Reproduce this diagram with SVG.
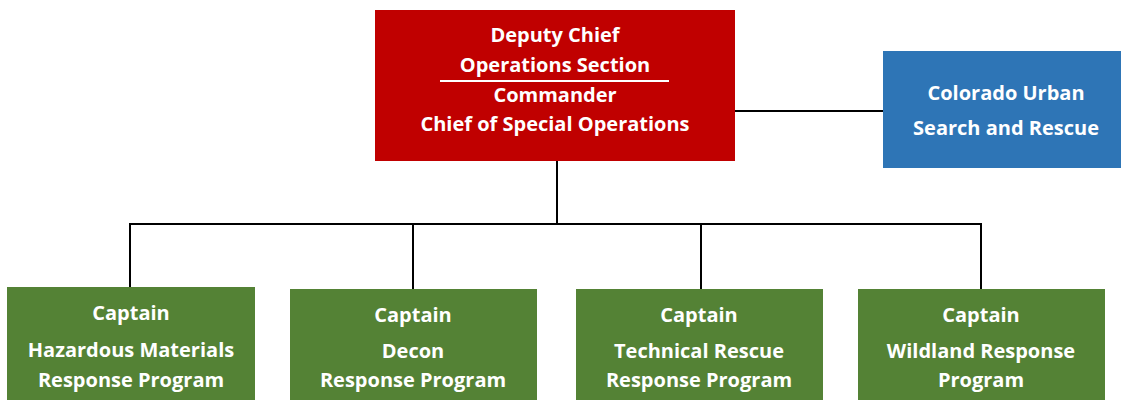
<svg xmlns="http://www.w3.org/2000/svg" width="1121" height="400" viewBox="0 0 1121 400">
<style>
.t{font-family:"Open Sans","Noto Sans","Liberation Sans",sans-serif;font-weight:bold;font-size:20px;fill:#FFFFFF;text-anchor:middle}
.c{stroke:#000000;stroke-width:2;fill:none}
.g{fill:#548235}
</style>
<rect width="1121" height="400" fill="#FFFFFF"/>
<g id="connectors">
<line class="c" x1="735" y1="111" x2="883" y2="111"/>
<line class="c" x1="557" y1="161" x2="557" y2="224"/>
<line class="c" x1="129" y1="224" x2="982" y2="224"/>
<line class="c" x1="130" y1="223" x2="130" y2="287"/>
<line class="c" x1="413" y1="223" x2="413" y2="289"/>
<line class="c" x1="701" y1="223" x2="701" y2="289"/>
<line class="c" x1="981" y1="223" x2="981" y2="289"/>
</g>
<g id="deputy-chief">
<rect x="375" y="10" width="360" height="151" fill="#C00000"/>
<text class="t" x="555" y="42">Deputy Chief</text>
<text class="t" x="555" y="72">Operations Section</text>
<line x1="440" y1="81" x2="669" y2="81" stroke="#FFFFFF" stroke-width="2"/>
<text class="t" x="555" y="102">Commander</text>
<text class="t" x="555" y="131">Chief of Special Operations</text>
</g>
<g id="colorado-usar">
<rect x="883" y="51" width="238" height="117" fill="#2E75B6"/>
<text class="t" x="1006" y="100">Colorado Urban</text>
<text class="t" x="1006" y="135">Search and Rescue</text>
</g>
<g id="hazmat">
<rect class="g" x="7" y="287" width="248" height="120"/>
<text class="t" x="131" y="320">Captain</text>
<text class="t" x="131" y="357">Hazardous Materials</text>
<text class="t" x="131" y="387">Response Program</text>
</g>
<g id="decon">
<rect class="g" x="290" y="289" width="247" height="120"/>
<text class="t" x="413" y="322">Captain</text>
<text class="t" x="413" y="358">Decon</text>
<text class="t" x="413" y="387">Response Program</text>
</g>
<g id="technical-rescue">
<rect class="g" x="576" y="289" width="247" height="120"/>
<text class="t" x="699" y="322">Captain</text>
<text class="t" x="699" y="358">Technical Rescue</text>
<text class="t" x="699" y="387">Response Program</text>
</g>
<g id="wildland">
<rect class="g" x="858" y="289" width="247" height="120"/>
<text class="t" x="981" y="322">Captain</text>
<text class="t" x="981" y="358">Wildland Response</text>
<text class="t" x="981" y="387">Program</text>
</g>
</svg>
